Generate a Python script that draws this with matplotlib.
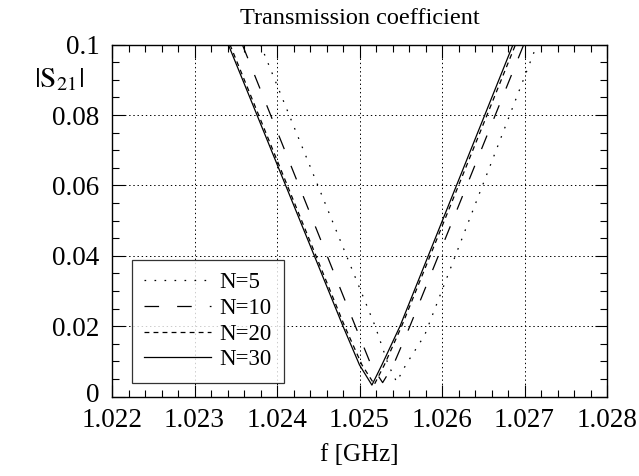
import matplotlib
matplotlib.use("Agg")
import matplotlib.pyplot as plt
import matplotlib.transforms as mtransforms
from matplotlib.ticker import MultipleLocator

plt.rcParams["font.family"] = ["Liberation Serif", "DejaVu Serif"]
plt.rcParams["mathtext.fontset"] = "stix"
plt.rcParams["lines.scale_dashes"] = False

# frequency [GHz] vs |S21|
f_n5 = [1.02380, 1.02519, 1.02535, 1.02545, 1.02556, 1.02579, 1.02715]
s_n5 = [0.100, 0.020, 0.009, 0.0042, 0.009, 0.0175, 0.100]

f_n10 = [1.02358, 1.02495, 1.02514, 1.02528, 1.02541, 1.02561, 1.02699]
s_n10 = [0.100, 0.020, 0.009, 0.0040, 0.009, 0.020, 0.100]

f_n20 = [1.02343, 1.02482, 1.02503, 1.02518, 1.02530, 1.02551, 1.02689]
s_n20 = [0.100, 0.020, 0.009, 0.0035, 0.009, 0.020, 0.100]

f_n30 = [1.02341, 1.02480, 1.02500, 1.02515, 1.02527, 1.02549, 1.02686]
s_n30 = [0.100, 0.020, 0.009, 0.0033, 0.009, 0.020, 0.100]

x_ticks = [1.022, 1.023, 1.024, 1.025, 1.026, 1.027, 1.028]
y_ticks = [0, 0.02, 0.04, 0.06, 0.08, 0.1]

fig = plt.figure(figsize=(6.39, 4.76), dpi=100, facecolor="white")
ax = fig.add_axes([0.1753, 0.1666, 0.7747, 0.7395])

ax.plot(f_n5, s_n5, color="black", lw=0.9, linestyle=(0, (1.2, 6)), label="N=5")
ax.plot(f_n10, s_n10, color="black", lw=0.9, linestyle=(0, (10.5, 13)), label="N=10")
ax.plot(f_n20, s_n20, color="black", lw=0.9, linestyle=(0, (3.5, 3)), label="N=20")
ax.plot(f_n30, s_n30, color="black", lw=0.9, linestyle="-", label="N=30")

ax.set_xlim(1.022, 1.028)
ax.set_ylim(0, 0.1)
ax.set_xticks(x_ticks)
ax.set_xticklabels([f"{v:.3f}" for v in x_ticks])
ax.set_yticks(y_ticks)
ax.set_yticklabels(["0", "0.02", "0.04", "0.06", "0.08", "0.1"])
ax.xaxis.set_minor_locator(MultipleLocator(0.0002))
ax.yaxis.set_minor_locator(MultipleLocator(0.005))

ax.tick_params(which="both", direction="in", top=True, right=True,
               labelsize=19.5, colors="black")
ax.tick_params(axis="x", which="major", pad=8)
ax.tick_params(axis="y", which="major", pad=9)
ax.tick_params(which="major", length=9, width=0.8)
ax.tick_params(which="minor", length=5, width=0.8)
for sp in ax.spines.values():
    sp.set_linewidth(1.0)

# nudge the "0" label up a little so it clears "1.022"
lbl0 = ax.get_yticklabels()[0]
lbl0.set_transform(lbl0.get_transform() +
                   mtransforms.ScaledTranslation(0, 3 / 72, fig.dpi_scale_trans))

ax.grid(True, which="major", color="black", linestyle=(0, (1, 2)), lw=0.7)

ax.set_title("Transmission coefficient", fontsize=17.5, pad=15)
ax.set_xlabel("f [GHz]", fontsize=18, labelpad=8)
fig.text(0.092, 0.832, r"$|\mathrm{S}_{21}|$", fontsize=21, ha="center", va="center")

leg = ax.legend(loc="lower left", bbox_to_anchor=(0.04, 0.039), fontsize=16.5,
                frameon=True, fancybox=False, edgecolor="black",
                handlelength=2.9, handletextpad=0.35, borderpad=0.55,
                labelspacing=0.2, borderaxespad=0)
leg.get_frame().set_linewidth(0.9)

fig.savefig("out.png", dpi=100, facecolor="white")
